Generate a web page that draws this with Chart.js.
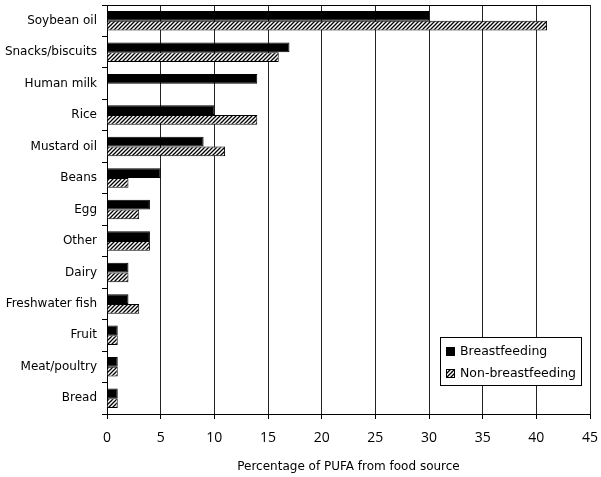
<!DOCTYPE html>
<html>
<head>
<meta charset="utf-8">
<script src="https://cdn.jsdelivr.net/npm/chart.js@4/dist/chart.umd.min.js"></script>
<style>
html,body{margin:0;padding:0;background:#fff;}
#wrap{position:relative;width:601px;height:477px;}
</style>
</head>
<body>
<div id="wrap"><canvas id="c" width="601" height="477"></canvas></div>
<script>
const categories = ["Soybean oil","Snacks/biscuits","Human milk","Rice","Mustard oil","Beans","Egg","Other","Dairy","Freshwater fish","Fruit","Meat/poultry","Bread"];
const breastfeeding = [30,17,14,10,9,5,4,4,2,2,1,1,1];
const nonBreastfeeding = [41,16,0,14,11,2,3,4,2,3,1,1,1];
const xTicks = [0,5,10,15,20,25,30,35,40,45];
const seriesNames = ["Breastfeeding","Non-breastfeeding"];
const xTitle = "Percentage of PUFA from food source";

function makeHatch(){
  const p = document.createElement('canvas');
  p.width = 4; p.height = 4;
  const g = p.getContext('2d');
  g.fillStyle = '#fff'; g.fillRect(0,0,4,4);
  g.strokeStyle = '#000'; g.lineWidth = 1.3;
  g.beginPath();
  g.moveTo(-1,5); g.lineTo(5,-1);
  g.moveTo(-1,1); g.lineTo(1,-1);
  g.moveTo(3,5); g.lineTo(5,3);
  g.stroke();
  return document.getElementById('c').getContext('2d').createPattern(p,'repeat');
}
const hatch = makeHatch();

const frame = {
  id:'frame',
  afterDraw(chart){
    const {ctx, chartArea:a} = chart;
    ctx.save();
    ctx.strokeStyle = '#000'; ctx.lineWidth = 1;
    ctx.beginPath();
    ctx.moveTo(a.left, a.top+0.5); ctx.lineTo(a.right, a.top+0.5);
    ctx.stroke();
    // legend
    const x0 = 440, y0 = 337, w = 141, h = 48;
    ctx.fillStyle = '#fff'; ctx.fillRect(x0,y0,w,h);
    ctx.strokeRect(x0+0.5,y0+0.5,w,h);
    ctx.fillStyle = '#000'; ctx.fillRect(446,347,9,9);
    ctx.fillStyle = hatch; ctx.fillRect(446,369,9,9);
    ctx.strokeStyle='#000'; ctx.strokeRect(446.5,369.5,8,8);
    ctx.fillStyle = '#000';
    ctx.font = '12.5px "DejaVu Sans"';
    ctx.textBaseline = 'middle';
    ctx.fillText(seriesNames[0], 460, 352);
    ctx.fillText(seriesNames[1], 460, 374);
    ctx.restore();
  }
};

new Chart(document.getElementById('c'), {
  type:'bar',
  data:{
    labels:categories,
    datasets:[
      {label:seriesNames[0], data:breastfeeding, backgroundColor:'#000', borderColor:'#000', borderWidth:1},
      {label:seriesNames[1], data:nonBreastfeeding, backgroundColor:hatch, borderColor:'#000', borderWidth:1}
    ]
  },
  options:{
    indexAxis:'y',
    responsive:false,
    animation:false,
    layout:{padding:{top:5,right:11,left:0,bottom:0}},
    datasets:{bar:{categoryPercentage:0.62,barPercentage:1.0}},
    plugins:{legend:{display:false},tooltip:{enabled:false}},
    scales:{
      x:{
        type:'linear', min:0, max:45,
        afterBuildTicks(s){ s.ticks = xTicks.map(v=>({value:v})); },
        afterFit(s){ s.height = 63; s.paddingRight = 0; s.paddingLeft = 0; },
        grid:{color:'#222', lineWidth:1, tickLength:5, tickColor:'#000', drawTicks:true},
        border:{color:'#000', width:1},
        ticks:{color:'#000', font:{family:'"Open Sans"', size:14}, padding:11},
        title:{display:true, text:xTitle, color:'#000', font:{family:'"DejaVu Sans"', size:12}, padding:{top:0,bottom:3}}
      },
      y:{
        afterFit(s){ s.width = 107; s.paddingTop = 0; s.paddingBottom = 0; },
        grid:{offset:true, drawOnChartArea:false, tickLength:5, tickColor:'#000'},
        border:{color:'#000', width:1},
        ticks:{color:'#000', font:{family:'"DejaVu Sans"', size:12}, padding:5}
      }
    }
  },
  plugins:[frame]
});
</script>
</body>
</html>
